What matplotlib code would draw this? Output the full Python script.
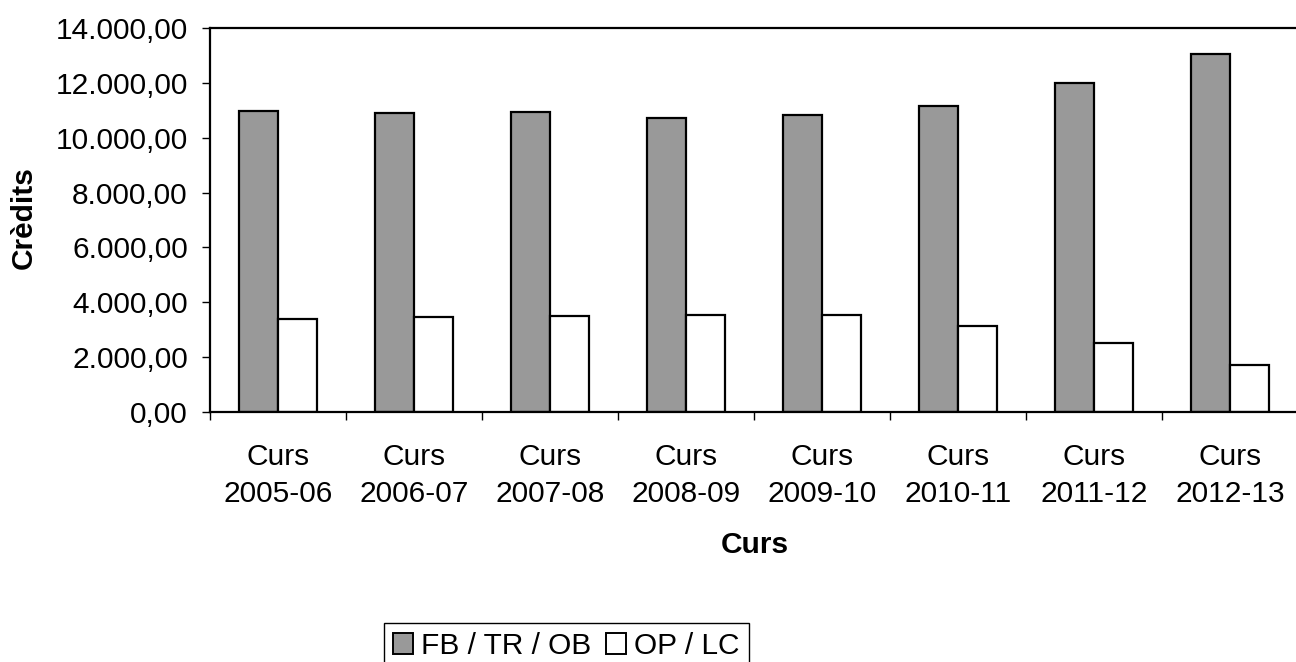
import matplotlib.pyplot as plt
import numpy as np

plt.rcParams['font.family'] = ['Liberation Sans', 'DejaVu Sans']

# dades llegides del gràfic
cursos = ['Curs\n2005-06', 'Curs\n2006-07', 'Curs\n2007-08', 'Curs\n2008-09',
          'Curs\n2009-10', 'Curs\n2010-11', 'Curs\n2011-12', 'Curs\n2012-13']
fb_tr_ob = [10960, 10900, 10920, 10720, 10810, 11140, 11980, 13040]
op_lc = [3390, 3460, 3510, 3550, 3540, 3140, 2530, 1730]
y_ticks = [0, 2000, 4000, 6000, 8000, 10000, 12000, 14000]

FS = 21.5


def fmt_es(v):
    # format 14.000,00
    s = '{:,.2f}'.format(v)
    return s.replace(',', 'X').replace('.', ',').replace('X', '.')


W, H = 1296, 662
fig = plt.figure(figsize=(W / 100, H / 100), dpi=100)
ax = fig.add_axes([210 / W, 1 - 412 / H, 1088 / W, 384 / H])

x = np.arange(len(cursos))
bw = 0.287
ax.bar(x - bw / 2, fb_tr_ob, bw, color='#999999', edgecolor='black',
       linewidth=1.6, label='FB / TR / OB')
ax.bar(x + bw / 2, op_lc, bw, color='white', edgecolor='black',
       linewidth=1.6, label='OP / LC')

ax.set_xlim(-0.5, len(cursos) - 0.5)
ax.set_ylim(0, 14000)
ax.set_yticks(y_ticks)
ax.set_yticklabels([fmt_es(v) for v in y_ticks], fontsize=FS)

# marques a les vores de categoria, etiquetes al centre
ax.set_xticks(np.arange(len(cursos) + 1) - 0.5)
ax.set_xticklabels([])
ax.set_xticks(x, minor=True)
ax.set_xticklabels(cursos, minor=True, fontsize=FS, linespacing=1.42)
ax.tick_params(axis='x', which='major', length=6, width=1, direction='out')
ax.tick_params(axis='x', which='minor', length=0, pad=22)
ax.tick_params(axis='y', length=6, width=1, direction='out', pad=10)

for side in ['left', 'top', 'bottom']:
    ax.spines[side].set_linewidth(1.6)
ax.spines['right'].set_visible(False)

fig.text(24 / W, 1 - 218 / H, 'Crèdits', rotation=90, fontsize=FS,
         fontweight='bold', ha='center', va='center')
fig.text(755 / W, 1 - 553 / H, 'Curs', fontsize=FS, fontweight='bold',
         ha='center', va='baseline')

leg = fig.legend(loc='upper left', bbox_to_anchor=(384 / W, 1 - 623 / H),
                 ncol=2, fontsize=FS, frameon=True, fancybox=False,
                 edgecolor='black', framealpha=1, handlelength=0.68,
                 handleheight=0.68, handletextpad=0.27, columnspacing=0.48,
                 borderpad=0.3, borderaxespad=0)
leg.get_frame().set_linewidth(1.0)
for h in leg.legend_handles:
    h.set_linewidth(1.4)

fig.savefig('out.png', dpi=100)
